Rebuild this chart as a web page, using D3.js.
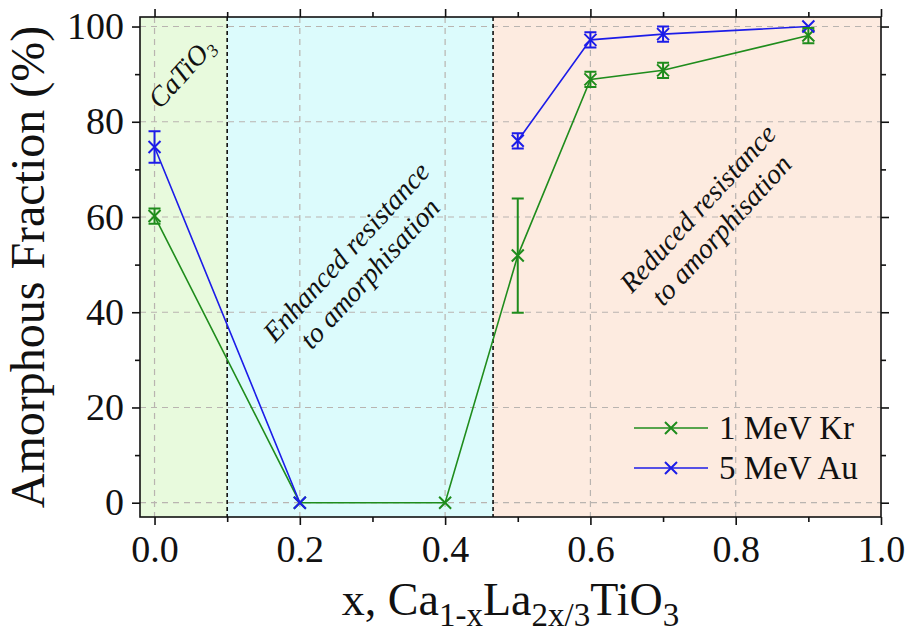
<!DOCTYPE html>
<html>
<head>
<meta charset="utf-8">
<script src="https://cdn.jsdelivr.net/npm/d3@7"></script>
<style>
  html, body { margin: 0; padding: 0; background: #ffffff; }
  svg { display: block; }
  text { font-family: "Liberation Serif", "Times New Roman", Times, serif; fill: #111; }
</style>
</head>
<body>
<svg id="chart" width="912" height="634"></svg>
<script>
// Composition x in Ca(1-x)La(2x/3)TiO3
const krX = [0.0, 0.2, 0.4, 0.5, 0.6, 0.7, 0.9];
const krY = [60.2, 0, 0, 51.9, 88.9, 90.8, 98.1];
const krErr = [1.6, 0, 0, 12.0, 1.6, 1.6, 1.6];

const auX = [0.0, 0.2, 0.4, 0.5, 0.6, 0.7, 0.9];
const auY = [74.7, 0, null, 76.0, 97.2, 98.4, 100.0];
const auErr = [3.3, 0, null, 1.6, 1.6, 1.6, 0];

const seriesNames = ["1 MeV Kr", "5 MeV Au"];

const xTickValues = [0.0, 0.2, 0.4, 0.6, 0.8, 1.0];
const xTickLabels = ["0.0", "0.2", "0.4", "0.6", "0.8", "1.0"];
const xMinorTicks = [0.1, 0.3, 0.5, 0.7, 0.9];
const yTickValues = [0, 20, 40, 60, 80, 100];
const yTickLabels = ["0", "20", "40", "60", "80", "100"];
const yMinorTicks = [10, 30, 50, 70, 90];

// Shaded composition ranges
const regionStart = [-0.02, 0.1, 0.466];
const regionEnd = [0.1, 0.466, 1.0];
const regionBoundaries = [0.1, 0.466];

// Annotation labels (data-space centres)
const noteLines = [["Enhanced resistance", "to amorphisation"], ["Reduced resistance", "to amorphisation"]];
const noteX = [0.281, 0.765];
const noteY = [50.3, 59.4];
const phaseLabelX = 0.037, phaseLabelY = 90.3;

const regionColors = ["#e8fadd", "#dcfbfc", "#fdebe0"];
const krColor = "#1f8c1c";
const auColor = "#1c1ce8";

const svg = d3.select("#chart");
const L = 140, R = 881, T = 17, B = 517;

const x = d3.scaleLinear().domain([-0.02, 1.0]).range([L, R]);
const y = d3.scaleLinear().domain([-3, 102]).range([B, T]);

// background regions
svg.append("g").selectAll("rect").data(regionStart).join("rect")
  .attr("x", (d) => x(d))
  .attr("y", T)
  .attr("width", (d, i) => x(regionEnd[i]) - x(d))
  .attr("height", B - T)
  .attr("fill", (d, i) => regionColors[i]);

// grid
const grid = svg.append("g").attr("stroke", "#b9b4b0").attr("stroke-width", 1.2)
  .attr("stroke-dasharray", "6,5").attr("fill", "none");
grid.selectAll("line.gx").data(xTickValues.filter(v => v < 1)).join("line")
  .attr("x1", d => x(d)).attr("x2", d => x(d)).attr("y1", T).attr("y2", B);
grid.selectAll("line.gy").data(yTickValues).join("line")
  .attr("y1", d => y(d)).attr("y2", d => y(d)).attr("x1", L).attr("x2", R);

// region boundaries
svg.append("g").selectAll("line").data(regionBoundaries).join("line")
  .attr("x1", d => x(d)).attr("x2", d => x(d)).attr("y1", T).attr("y2", B)
  .attr("stroke", "#111").attr("stroke-width", 1.6).attr("stroke-dasharray", "4,3");

// annotations
const fontStack = "'Liberation Serif', 'Times New Roman', serif";
noteLines.forEach((lines, i) => {
  const g = svg.append("g")
    .attr("transform", `translate(${x(noteX[i])},${y(noteY[i])}) rotate(-47.5)`);
  lines.forEach((t, j) => {
    g.append("text")
      .attr("x", 0).attr("y", (j - 0.5) * 32)
      .attr("dy", "0.3em")
      .attr("text-anchor", "middle")
      .attr("font-style", "italic")
      .attr("font-size", 28)
      .text(t);
  });
});
const phase = svg.append("text")
  .attr("transform", `translate(${x(phaseLabelX)},${y(phaseLabelY)}) rotate(-48)`)
  .attr("text-anchor", "middle").attr("dy", "0.33em")
  .attr("font-style", "italic").attr("font-size", 28);
phase.append("tspan").text("CaTiO");
phase.append("tspan").attr("font-size", 18).attr("dy", 5).text("3");

// series
function toPoints(xs, ys, es) {
  return xs.map((v, i) => ({ x: v, y: ys[i], e: es[i] }));
}
const kr = toPoints(krX, krY, krErr);
const au = toPoints(auX, auY, auErr);

const line = d3.line().defined(d => d.y !== null).x(d => x(d.x)).y(d => y(d.y));

function drawSeries(pts, color) {
  const g = svg.append("g");
  g.append("path").datum(pts).attr("d", line)
    .attr("fill", "none").attr("stroke", color).attr("stroke-width", 1.6);
  const s = 6;
  g.selectAll("path.mk").data(pts.filter(d => d.y !== null)).join("path")
    .attr("class", "mk")
    .attr("d", d => {
      const cx = x(d.x), cy = y(d.y);
      return `M${cx - s},${cy - s}L${cx + s},${cy + s}M${cx - s},${cy + s}L${cx + s},${cy - s}`;
    })
    .attr("stroke", color).attr("stroke-width", 2).attr("fill", "none");
  return g;
}
function drawErrors(pts, color) {
  const g = svg.append("g").attr("stroke", color).attr("stroke-width", 2).attr("fill", "none");
  const c = 6;
  g.selectAll("path").data(pts.filter(d => d.y !== null && d.e > 0)).join("path")
    .attr("d", d => {
      const cx = x(d.x), y0 = y(d.y - d.e), y1 = y(d.y + d.e);
      return `M${cx},${y0}L${cx},${y1}M${cx - c},${y0}L${cx + c},${y0}M${cx - c},${y1}L${cx + c},${y1}`;
    });
}
drawSeries(kr, krColor);
drawSeries(au, auColor);
drawErrors(au, auColor);
drawErrors(kr, krColor);

// frame
svg.append("rect").attr("x", L).attr("y", T).attr("width", R - L).attr("height", B - T)
  .attr("fill", "none").attr("stroke", "#111").attr("stroke-width", 1.6);

// axes
function styleAxis(g, size) {
  g.select(".domain").remove();
  g.selectAll(".tick line").attr("stroke", "#111").attr("stroke-width", 1.6);
  g.selectAll(".tick text").attr("font-size", size).attr("font-family", fontStack).attr("fill", "#111");
}
const xb = svg.append("g").attr("transform", `translate(0,${B})`)
  .call(d3.axisBottom(x).tickValues(xTickValues).tickSize(8).tickPadding(10)
    .tickFormat((d, i) => xTickLabels[i]));
styleAxis(xb, 38);
const xbm = svg.append("g").attr("transform", `translate(0,${B})`)
  .call(d3.axisBottom(x).tickValues(xMinorTicks).tickSize(5).tickFormat(""));
styleAxis(xbm, 0);
const xt = svg.append("g").attr("transform", `translate(0,${T})`)
  .call(d3.axisTop(x).tickValues(xTickValues).tickSize(8).tickFormat(""));
styleAxis(xt, 0);
const xtm = svg.append("g").attr("transform", `translate(0,${T})`)
  .call(d3.axisTop(x).tickValues(xMinorTicks).tickSize(5).tickFormat(""));
styleAxis(xtm, 0);

const yl = svg.append("g").attr("transform", `translate(${L},0)`)
  .call(d3.axisLeft(y).tickValues(yTickValues).tickSize(8).tickPadding(8)
    .tickFormat((d, i) => yTickLabels[i]));
styleAxis(yl, 38);
const ylm = svg.append("g").attr("transform", `translate(${L},0)`)
  .call(d3.axisLeft(y).tickValues(yMinorTicks).tickSize(5).tickFormat(""));
styleAxis(ylm, 0);
const yr = svg.append("g").attr("transform", `translate(${R},0)`)
  .call(d3.axisRight(y).tickValues(yTickValues).tickSize(8).tickFormat(""));
styleAxis(yr, 0);
const yrm = svg.append("g").attr("transform", `translate(${R},0)`)
  .call(d3.axisRight(y).tickValues(yMinorTicks).tickSize(5).tickFormat(""));
styleAxis(yrm, 0);

// axis titles
svg.append("text")
  .attr("transform", `translate(44,${(T + B) / 2}) rotate(-90)`)
  .attr("text-anchor", "middle").attr("font-size", 48)
  .text("Amorphous Fraction (%)");

const xt2 = svg.append("text")
  .attr("x", (L + R) / 2).attr("y", 615)
  .attr("text-anchor", "middle").attr("font-size", 46);
xt2.append("tspan").text("x, Ca");
xt2.append("tspan").attr("font-size", 33).attr("dy", 11).text("1-x");
xt2.append("tspan").attr("dy", -11).text("La");
xt2.append("tspan").attr("font-size", 33).attr("dy", 11).text("2x/3");
xt2.append("tspan").attr("dy", -11).text("TiO");
xt2.append("tspan").attr("font-size", 33).attr("dy", 11).text("3");

// legend
const legendColors = [krColor, auColor];
const lg = svg.append("g");
seriesNames.forEach((name, i) => {
  const ly = 428 + i * 40;
  lg.append("line").attr("x1", 634).attr("x2", 708).attr("y1", ly).attr("y2", ly)
    .attr("stroke", legendColors[i]).attr("stroke-width", 1.6);
  const s = 6, cx = 671;
  lg.append("path")
    .attr("d", `M${cx - s},${ly - s}L${cx + s},${ly + s}M${cx - s},${ly + s}L${cx + s},${ly - s}`)
    .attr("stroke", legendColors[i]).attr("stroke-width", 2);
  lg.append("text").attr("x", 719).attr("y", ly + 11).attr("font-size", 33).text(name);
});
</script>
</body>
</html>
